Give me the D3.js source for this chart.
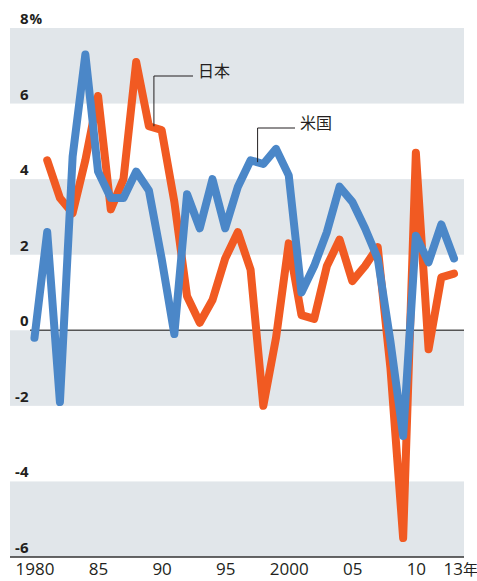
<!DOCTYPE html>
<html><head><meta charset="utf-8">
<script src="https://cdn.jsdelivr.net/npm/d3@7"></script>
<style>
html,body{margin:0;padding:0;background:#fff;}
svg{display:block;}
text{font-family:"Open Sans","Noto Sans","Noto Sans CJK JP",sans-serif;}
</style></head>
<body>
<svg id="c" width="477" height="581"></svg>
<script>
// Real GDP growth rate (%)
const japanYears = d3.range(1981, 2014);
const japanValues = [4.5,3.5,3.1,4.5,6.2,3.2,4.0,7.1,5.4,5.3,3.4,0.9,0.2,0.8,1.9,2.6,1.6,-2.0,-0.2,2.3,0.4,0.3,1.7,2.4,1.3,1.7,2.2,-1.0,-5.5,4.7,-0.5,1.4,1.5];
const usYears = d3.range(1980, 2014);
const usValues = [-0.2,2.6,-1.9,4.6,7.3,4.2,3.5,3.5,4.2,3.7,1.9,-0.1,3.6,2.7,4.0,2.7,3.8,4.5,4.4,4.8,4.1,1.0,1.7,2.6,3.8,3.4,2.7,1.9,-0.3,-2.8,2.5,1.8,2.8,1.9];
const yTicks = [-6,-4,-2,0,2,4,6,8];
const xTicks = [1980,1985,1990,1995,2000,2005,2010,2013];
const xTickLabels = ["1980","85","90","95","2000","05","10","13"];
const seriesNames = ["日本","米国"];

const svg = d3.select("#c");
const x = d3.scaleLinear().domain([1980, 2013]).range([34.5, 454]);
const y = d3.scaleLinear().domain([-6, 8]).range([557, 28]);
const bandL = 10, bandR = 464;

// bands
const bands = d3.pairs(yTicks).filter((p,i)=> i%2===0);
svg.append("g").selectAll("rect").data(bands).join("rect")
  .attr("x", bandL).attr("width", bandR-bandL)
  .attr("y", d=>y(d[1])).attr("height", d=>y(d[0])-y(d[1]))
  .attr("fill", "#e1e6ea");

// zero line
svg.append("line").attr("x1", 30).attr("x2", bandR)
  .attr("y1", y(0)).attr("y2", y(0)).attr("stroke", "#555").attr("stroke-width", 1.5);

// y labels
const yl = svg.append("g");
yl.selectAll("text").data(yTicks).join("text")
  .attr("x", 28.5).attr("y", d=>y(d)-4).attr("text-anchor","end")
  .attr("font-size", 15).attr("font-weight", "bold").attr("fill", "#231f20")
  .text(d=>d);
yl.append("text").attr("x", 29.5).attr("y", y(8)-4)
  .attr("font-size", 14).attr("font-weight","bold").attr("fill","#231f20").text("%");

// x axis
const xAxis = d3.axisBottom(x).tickValues(xTicks).tickSize(0).tickPadding(6)
  .tickFormat((d,i)=>xTickLabels[i]);
const gx = svg.append("g").attr("transform", `translate(0,${y(-6)})`).call(xAxis);
gx.select(".domain").remove();
gx.selectAll("text").attr("font-size", 17).attr("fill", "#231f20")
  .attr("font-family", "'Open Sans','Noto Sans',sans-serif");
gx.selectAll(".tick").filter(d=>d===2013).select("text")
  .attr("text-anchor","start").attr("dx", -11)
  .append("tspan").attr("font-size", 15).attr("font-family","'Noto Sans CJK JP',sans-serif").text("年");
svg.append("line").attr("x1", bandL).attr("x2", bandR)
  .attr("y1", y(-6)).attr("y2", y(-6)).attr("stroke", "#333").attr("stroke-width", 1.5);

// lines
const line = d3.line().x(d=>x(d[0])).y(d=>y(d[1]));
const us = usYears.map((yr,i)=>[yr, usValues[i]]);
const jp = japanYears.map((yr,i)=>[yr, japanValues[i]]);
svg.append("path").datum(jp).attr("d", line).attr("fill","none")
  .attr("stroke", "#f15a22").attr("stroke-width", 8)
  .attr("stroke-linejoin","round").attr("stroke-linecap","round");
svg.append("path").datum(us).attr("d", line).attr("fill","none")
  .attr("stroke", "#4b87c8").attr("stroke-width", 8)
  .attr("stroke-linejoin","round").attr("stroke-linecap","round");

// annotations
function annot(px, py, ly, hx2, label){
  svg.append("path").attr("d", `M${px},${py}V${ly}H${hx2}`)
    .attr("fill","none").attr("stroke","#231f20").attr("stroke-width",1);
  svg.append("text").attr("x", hx2+5).attr("y", ly+1)
    .attr("font-size", 16).attr("fill","#231f20")
    .attr("font-family","'Noto Sans CJK JP',sans-serif").text(label);
}
const jx = x(1989)+5, jy = y(japanValues[japanYears.indexOf(1989)]);
annot(jx, jy, 76, 193, seriesNames[0]);
const ux = x(1997)+7, uy = (y(usValues[usYears.indexOf(1997)])+y(usValues[usYears.indexOf(1998)]))/2;
annot(ux, uy, 128, 295, seriesNames[1]);
</script>
</body></html>
